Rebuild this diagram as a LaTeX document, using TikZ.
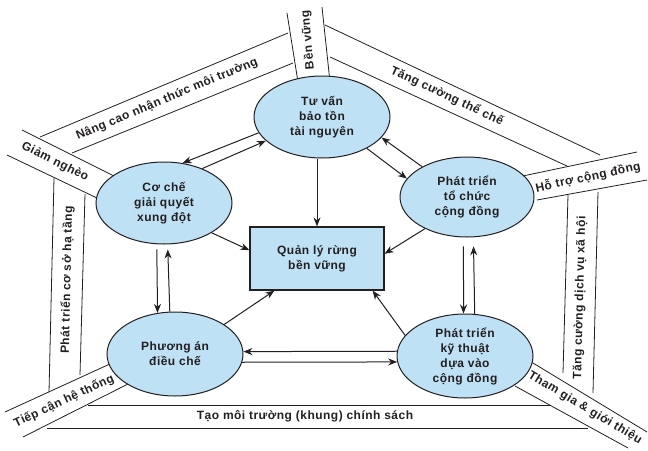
\documentclass[tikz,border=0pt]{standalone}
\usepackage{fontspec}
\setmainfont{Liberation Sans}[LetterSpace=4]
\usetikzlibrary{arrows.meta,shapes.geometric}
\definecolor{fillb}{RGB}{190,225,245}
\definecolor{ink}{RGB}{35,31,32}
\begin{document}
\begin{tikzpicture}[x=1pt,y=-1pt,
  bubble/.style={ellipse,draw=ink,line width=1pt,fill=fillb,inner sep=0pt,
    minimum width=136pt,minimum height=82pt,align=center,text=ink,
    font=\bfseries\fontsize{12}{15}\selectfont},
  centerbox/.style={rectangle,draw=ink,line width=1.2pt,fill=fillb,inner sep=0pt,
    minimum width=134pt,minimum height=63pt,align=center,text=ink,
    font=\bfseries\fontsize{12}{15}\selectfont},
  band/.style={draw=ink,line width=0.8pt},
  bandtext/.style={text=ink,inner sep=0pt,font=\bfseries\fontsize{12}{14}\selectfont},
  arr/.style={draw=ink,line width=1pt,-{Stealth[length=9pt,width=7pt]}}]
\useasboundingbox (0,0) rectangle (648,450);
% ---- outer bands ----
\draw[band] (40,137) -- (288,33);
\draw[band] (72,153) -- (293,63);
\draw[band] (287,13) -- (298,82);
\draw[band] (322,7) -- (330,82);
\draw[band] (325,25) -- (600,155);
\draw[band] (330,57) -- (567,166);
\draw[band] (518,177) -- (637,152);
\draw[band] (537,200) -- (647,180);
\draw[band] (568,195) -- (563,373);
\draw[band] (598,192) -- (593,393);
\draw[band] (528,360) -- (647,432);
\draw[band] (515,386) -- (628,448);
\draw[band] (88,405) -- (550,405);
\draw[band] (47,428) -- (588,428);
\draw[band] (5,412) -- (112,363);
\draw[band] (23,437) -- (130,383);
\draw[band] (54,178) -- (49,392);
\draw[band] (85,194) -- (80,375);
\draw[band] (22,130) -- (116,177);
\draw[band] (7,155) -- (97,198);
% ---- band labels ----
\node[bandtext,rotate=22.7] (t1) at (167,99) {Nâng cao nhận thức môi trường};
\node[bandtext,rotate=95] (t2) at (308,40) {Bền vững};
\node[bandtext,rotate=-25] (t3) at (447,96) {Tăng cường thể chế};
\node[bandtext,rotate=12] (t4) at (588,177) {Hỗ trợ cộng đồng};
\node[bandtext,rotate=88.5] (t5) at (580,298) {Tăng cường dịch vụ xã hội};
\node[bandtext,rotate=-31] (t6) at (585,408) {Tham gia \& giới thiệu};
\node[bandtext] (t7) at (305,416.5) {Tạo môi trường (khung) chính sách};
\node[bandtext,rotate=25] (t8) at (64,401) {Tiếp cận hệ thống};
\node[bandtext,rotate=88.7] (t9) at (67,280) {Phát triển cơ sở hạ tầng};
\node[bandtext,rotate=-26.6] (t10) at (55,162) {Giảm nghèo};
% ---- nodes ----
\node[bubble] (T) at (322,117) {Tư vấn\\bảo tồn\\tài nguyên};
\node[bubble] (L) at (164,203) {Cơ chế\\giải quyết\\xung đột};
\node[bubble,minimum width=134pt,minimum height=80pt] (R) at (467,197) {Phát triển\\tổ chức\\cộng đồng};
\node[bubble,minimum height=84pt] (BL) at (175,354) {Phương án\\điều chế};
\node[bubble,minimum height=84pt] (BR) at (465,356) {Phát triển\\kỹ thuật\\dựa vào\\cộng đồng};
\node[centerbox] (Q) at (317,258.5) {Quản lý rừng\\bền vững};
% ---- arrows ----
\draw[arr] (T.194) -- (L.65);
\draw[arr] (L.42) -- (T.203);
\draw[arr] (T.325) -- (R.163);
\draw[arr] (R.146) -- (T.341);
\draw[arr] (T.south -| Q.north) -- (Q.north);
\draw[arr] (L.328) -- (Q.173);
\draw[arr] (R.217) -- (Q.4);
\draw[arr] (BL.31) -- (Q.217);
\draw[arr] (BR.161) -- (Q.330);
\draw[arr,shorten <=9pt] (R.265) -- (BR.92);
\draw[arr,shorten >=9pt] (BR.77) -- (R.279);
\draw[arr,shorten <=5pt] (L.260) -- (BL.113);
\draw[arr,shorten >=5pt] (BL.97) -- (L.275);
\draw[arr] (BR.176) -- (BL.2.5);
\draw[arr] (BL.353) -- (BR.185);
\end{tikzpicture}
\end{document}
